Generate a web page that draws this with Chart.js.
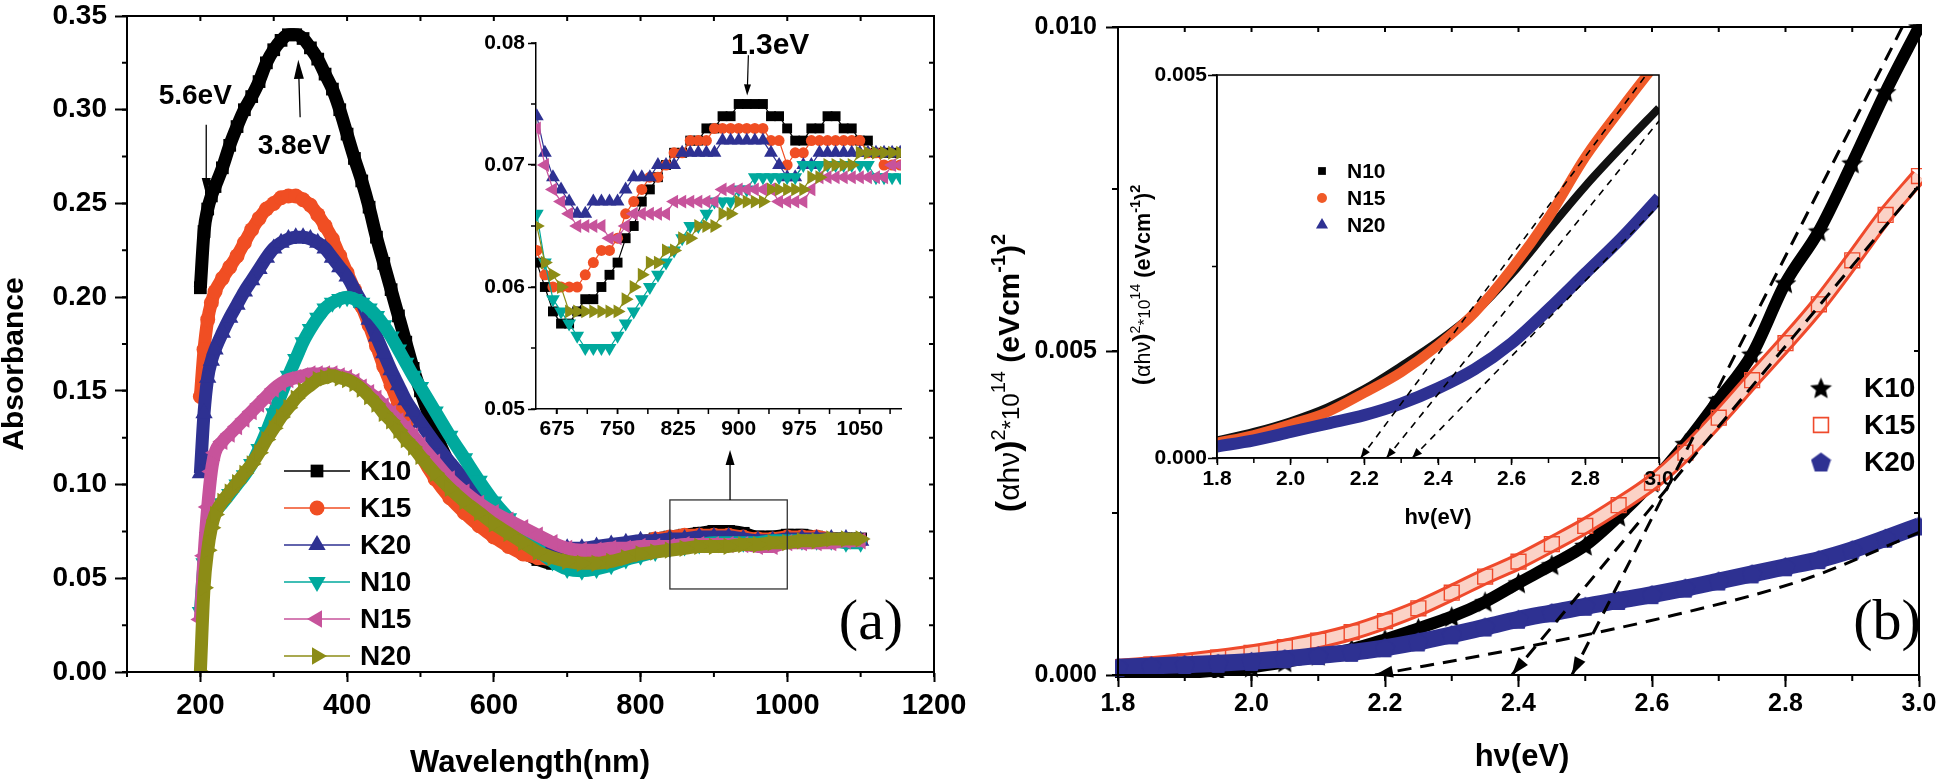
<!DOCTYPE html>
<html lang="en">
<head>
<meta charset="UTF-8">
<title>Absorbance spectra and Tauc plots</title>
<style>
  body { margin: 0; background: #fff; }
  #stage { position: relative; width: 1946px; height: 784px; overflow: hidden; }
  #stage canvas { position: absolute; left: 0; top: 0; }
</style>
<script src="https://cdn.jsdelivr.net/npm/chart.js"></script>
</head>
<body>
<div id="stage">
  <canvas id="absChart" width="1946" height="784"></canvas>
  <canvas id="absZoom" width="1946" height="784"></canvas>
  <canvas id="taucChart" width="1946" height="784"></canvas>
  <canvas id="taucZoom" width="1946" height="784"></canvas>
</div>
<script>
// ---------- (a) absorbance vs wavelength ----------
const wavelength = [200,205,210,215,220,230,240,250,260,270,280,290,300,310,320,330,340,350,360,370,380,390,400,410,420,430,440,450,460,470,480,490,500,
  520,540,560,580,600,620,640,660,680,700,720,740,760,780,800,820,840,860,880,900,920,940,960,980,1000,1020,1040,1060,1080,1100];
const absK10 = [0.205,0.235,0.247,0.254,0.259, 0.269,0.281,0.291,0.300,0.307,0.315,0.325,0.332, 0.337,0.340,0.340,0.338,0.333,0.327,0.319,0.311,0.300,0.287,
  0.274,0.262,0.248,0.232,0.218,0.204,0.190,0.176,0.162,0.150, 0.128,0.110,0.095,0.084,0.075, 0.069,0.064,0.060,0.058,0.058,
  0.059,0.061,0.064,0.067,0.069, 0.071,0.072,0.073,0.074,0.075, 0.075,0.074,0.072,0.072,0.073, 0.073,0.072,0.071,0.071,0.071];
const absK15 = [0.147,0.172,0.188,0.197,0.203, 0.210,0.216,0.222,0.229,0.236,0.242,0.247,0.250, 0.253,0.254,0.254,0.252,0.249,0.244,0.238,0.231,0.222,0.213,
  0.204,0.195,0.185,0.174,0.163,0.153,0.143,0.133,0.124,0.116, 0.103,0.093,0.085,0.078,0.072, 0.067,0.063,0.061,0.060,0.060,
  0.061,0.063,0.065,0.067,0.069, 0.071,0.072,0.073,0.073,0.073, 0.073,0.072,0.071,0.071,0.072, 0.072,0.072,0.071,0.070,0.070];
const absK20 = [0.106,0.138,0.157,0.166,0.172, 0.181,0.189,0.196,0.203,0.209,0.215,0.221,0.226, 0.229,0.231,0.232,0.232,0.231,0.229,0.226,0.221,0.216,0.211,
  0.204,0.197,0.188,0.179,0.170,0.161,0.153,0.145,0.139,0.133, 0.122,0.112,0.103,0.095,0.087, 0.080,0.074,0.070,0.067,0.066,
  0.066,0.067,0.068,0.069,0.070, 0.070,0.071,0.071,0.072,0.072, 0.072,0.071,0.070,0.070,0.071, 0.071,0.071,0.071,0.071,0.070];
const absN10 = [0.032,0.058,0.072,0.080,0.085, 0.090,0.095,0.100,0.105,0.111,0.119,0.128,0.138, 0.148,0.158,0.167,0.176,0.183,0.189,0.194,0.197,0.199,0.200,
  0.199,0.197,0.194,0.190,0.185,0.179,0.172,0.165,0.158,0.152, 0.139,0.126,0.114,0.102,0.091, 0.082,0.073,0.065,0.059,0.055,
  0.054,0.055,0.057,0.060,0.062, 0.064,0.066,0.067,0.068,0.069, 0.069,0.069,0.069,0.070,0.070, 0.070,0.070,0.070,0.069,0.069];
const absN15 = [0.028,0.062,0.088,0.107,0.117, 0.123,0.127,0.131,0.135,0.139,0.143,0.147,0.151, 0.154,0.156,0.157,0.158,0.159,0.159,0.159,0.159,0.158,0.157,
  0.155,0.152,0.149,0.146,0.142,0.138,0.134,0.130,0.126,0.121, 0.112,0.103,0.096,0.090,0.085, 0.081,0.077,0.073,0.069,0.066,
  0.065,0.065,0.066,0.066,0.067, 0.067,0.067,0.068,0.068,0.068, 0.068,0.068,0.067,0.067,0.069, 0.069,0.069,0.069,0.070,0.070];
const absN20 = [0.000,0.045,0.065,0.077,0.084, 0.091,0.096,0.101,0.106,0.111,0.117,0.124,0.130, 0.136,0.141,0.146,0.150,0.153,0.156,0.157,0.158,0.157,0.156,
  0.154,0.151,0.147,0.143,0.138,0.134,0.129,0.124,0.120,0.115, 0.106,0.098,0.091,0.085,0.079, 0.074,0.069,0.064,0.061,0.059,
  0.058,0.058,0.059,0.061,0.063, 0.064,0.065,0.066,0.067,0.067, 0.067,0.068,0.068,0.069,0.069, 0.070,0.070,0.071,0.071,0.071];
const absTickX = [200, 400, 600, 800, 1000, 1200];
const absTickY = [0, 0.05, 0.10, 0.15, 0.20, 0.25, 0.30, 0.35];

// inset of (a): 650-1100 nm, read as 0.001 steps
const wlZoom = [650,660,670,680,690,700,710,720,730,740,750,760,770,780,790,800,810,820,830,840,850,860,870,880,890,900,910,920,930,940,
  950,960,970,980,990,1000,1010,1020,1030,1040,1050,1060,1070,1080,1090,1100];
const zoomK10 = [0.062,0.060,0.058,0.057,0.057,0.058,0.059,0.059,0.060,0.061, 0.062,0.064,0.065,0.067,0.068,0.069,0.070,0.071,0.071,0.072,
  0.072,0.073,0.073,0.074,0.074,0.075,0.075,0.075,0.075,0.074, 0.074,0.073,0.072,0.072,0.073,0.073,0.074,0.074,0.073,0.073, 0.072,0.072,0.071,0.071,0.071,0.071];
const zoomK15 = [0.063,0.061,0.060,0.060,0.060,0.060,0.061,0.062,0.063,0.063, 0.064,0.066,0.067,0.068,0.069,0.069,0.070,0.071,0.071,0.072,
  0.072,0.072,0.073,0.073,0.073,0.073,0.073,0.073,0.073,0.072, 0.072,0.070,0.071,0.071,0.072,0.072,0.072,0.072,0.072,0.072, 0.072,0.071,0.071,0.070,0.070,0.070];
const zoomK20 = [0.074,0.071,0.069,0.068,0.067,0.066,0.066,0.067,0.067,0.067, 0.067,0.068,0.069,0.069,0.069,0.070,0.070,0.070,0.071,0.071,
  0.071,0.071,0.071,0.072,0.072,0.072,0.072,0.072,0.072,0.071, 0.070,0.069,0.069,0.070,0.070,0.071,0.071,0.071,0.071,0.071, 0.071,0.071,0.071,0.071,0.071,0.071];
const zoomN10 = [0.066,0.062,0.059,0.058,0.057,0.056,0.055,0.055,0.055,0.055, 0.056,0.057,0.058,0.059,0.060,0.061,0.062,0.063,0.064,0.065,
  0.065,0.066,0.067,0.067,0.067,0.068,0.068,0.069,0.069,0.069, 0.069,0.069,0.069,0.070,0.070,0.070,0.070,0.070,0.070,0.070, 0.070,0.070,0.069,0.069,0.069,0.069];
const zoomN15 = [0.073,0.070,0.068,0.067,0.066,0.065,0.065,0.065,0.065,0.064, 0.064,0.065,0.066,0.066,0.066,0.066,0.066,0.067,0.067,0.067,
  0.067,0.067,0.067,0.068,0.068,0.068,0.068,0.068,0.068,0.068, 0.067,0.067,0.067,0.067,0.068,0.069,0.069,0.069,0.069,0.069, 0.069,0.069,0.069,0.069,0.070,0.070];
const zoomN20 = [0.065,0.062,0.061,0.060,0.058,0.058,0.058,0.058,0.058,0.058, 0.058,0.059,0.060,0.061,0.062,0.062,0.063,0.063,0.064,0.064,
  0.065,0.065,0.065,0.066,0.066,0.067,0.067,0.067,0.067,0.068, 0.068,0.068,0.068,0.068,0.069,0.069,0.070,0.070,0.070,0.070, 0.071,0.071,0.071,0.071,0.071,0.071];
const zoomTickX = [675, 750, 825, 900, 975, 1050];
const zoomTickY = [0.05, 0.06, 0.07, 0.08];

// ---------- (b) Tauc plots, (alpha h nu)^2 vs h nu ----------
const photonEnergy = [1.80,1.85,1.90,1.95,2.00,2.05,2.10,2.15,2.20,2.25,2.30,2.35,2.40,2.45,2.50,2.55,2.60,2.65,2.70,2.75,2.80,2.85,2.90,2.95,3.00];
const taucK10 = [0,0.00001,0.00003,0.00007,0.00012,0.0002,0.0003,0.0004,0.00055,0.00072,0.0009,0.00113,0.00142,0.0017,0.002,
  0.00245,0.00297,0.00357,0.00425,0.00495,0.00605,0.00685,0.0079,0.009,0.01];
const taucK15 = [0.00012,0.00016,0.00021,0.00027,0.00034,0.00043,0.00053,0.00066,0.00083,0.00103,0.00127,0.00152,0.00175,0.00202,0.0023,
  0.00262,0.00297,0.00343,0.00397,0.00455,0.00512,0.00572,0.0064,0.0071,0.0077];
const taucK20 = [0.00012,0.00014,0.00016,0.00018,0.00021,0.00025,0.0003,0.00035,0.00042,0.00051,0.00062,0.00074,0.00086,0.00096,0.00106,
  0.00115,0.00124,0.00134,0.00145,0.00156,0.00167,0.00178,0.00193,0.00211,0.0023];
// linear extrapolations (band gap lines)
const fitK10E = [2.48, 2.975], fitK10V = [0, 0.0100];
const fitK15E = [2.39, 3.0], fitK15V = [0, 0.00755];
const fitK20E = [2.185, 2.40, 2.615, 2.83, 3.0], fitK20V = [0, 0.00041, 0.00088, 0.00148, 0.0022];
const taucTickX = [1.8, 2.0, 2.2, 2.4, 2.6, 2.8, 3.0];
const taucTickY = [0, 0.005, 0.010];

const energyZoom = [1.8,1.9,2.0,2.1,2.2,2.3,2.4,2.5,2.6,2.7,2.8,2.9,3.0];
const taucN10 = [0.00023,0.00034,0.00048,0.00066,0.0009,0.0012,0.00152,0.0019,0.0024,0.00298,0.00355,0.00407,0.00457];
const taucN15 = [0.0002,0.0003,0.00044,0.0006,0.00085,0.00112,0.00147,0.0019,0.00247,0.00314,0.00393,0.00458,0.0052];
const taucN20 = [0.00015,0.00023,0.00034,0.00045,0.00056,0.00071,0.00091,0.00116,0.0015,0.00194,0.00241,0.00288,0.0034];
const fitN10E = [2.26, 3.0], fitN10V = [0, 0.0044];
const fitN15E = [2.19, 2.965], fitN15V = [0, 0.005];
const fitN20E = [2.33, 3.0], fitN20V = [0, 0.0033];
const taucZoomTickY = [0, 0.005];

// ---------- shared look ----------
const SANS = '"Liberation Sans", Arial, sans-serif';
const SERIF = '"Liberation Serif", "Times New Roman", serif';
Chart.defaults.font.family = SANS;
Chart.defaults.color = '#000';
Chart.defaults.animation = false;
Chart.defaults.plugins.legend.display = false;
Chart.defaults.plugins.tooltip.enabled = false;

const pts = (xs, ys) => xs.map((v, i) => ({x: v, y: ys[i]}));

function axis(o) {
  return {
    type: 'linear', position: o.pos, min: o.min, max: o.max,
    afterBuildTicks: s => { s.ticks = o.major.map(v => ({value: v})); },
    afterFit: s => {
      if (o.pos === 'left') { s.width = o.size; s.paddingTop = 0; s.paddingBottom = 0; }
      else { s.height = o.size; s.paddingLeft = 0; s.paddingRight = 0; }
    },
    ticks: { padding: o.pad, autoSkip: false, maxRotation: 0,
             color: '#000', font: { family: SANS, size: o.font, weight: 'bold' }, callback: o.fmt },
    grid: { drawOnChartArea: false, drawTicks: true, tickLength: o.tick, tickColor: '#000', tickWidth: o.lw },
    border: { display: true, color: '#000', width: o.lw }
  };
}

function minorTicks(chart, xStep, yStep, len, innerLen, lw) {
  const {ctx, chartArea: a, scales: {x, y}} = chart;
  ctx.save();
  ctx.strokeStyle = '#000';
  ctx.lineWidth = lw;
  ctx.beginPath();
  for (let i = Math.ceil(x.min / xStep - 1e-9); i * xStep <= x.max + 1e-9; i++) {
    const px = x.getPixelForValue(i * xStep);
    ctx.moveTo(px, a.bottom); ctx.lineTo(px, a.bottom + len);
    if (innerLen) { ctx.moveTo(px, a.top); ctx.lineTo(px, a.top + innerLen); }
  }
  for (let i = Math.ceil(y.min / yStep - 1e-9); i * yStep <= y.max + 1e-9; i++) {
    const py = y.getPixelForValue(i * yStep);
    ctx.moveTo(a.left, py); ctx.lineTo(a.left - len, py);
    if (innerLen) { ctx.moveTo(a.right, py); ctx.lineTo(a.right - innerLen, py); }
  }
  ctx.stroke();
  ctx.restore();
}

function frame(chart, lw) {
  const {ctx, chartArea: a} = chart;
  ctx.save();
  ctx.strokeStyle = '#000';
  ctx.lineWidth = lw;
  ctx.strokeRect(a.left, a.top, a.right - a.left, a.bottom - a.top);
  ctx.restore();
}

function text(ctx, str, px, py, o) {
  ctx.save();
  ctx.translate(px, py);
  if (o.rot) ctx.rotate(o.rot);
  ctx.font = `${o.weight || 'bold'} ${o.size}px ${o.family || SANS}`;
  ctx.fillStyle = '#000';
  ctx.textAlign = o.align || 'center';
  ctx.textBaseline = o.base || 'middle';
  ctx.fillText(str, 0, 0);
  ctx.restore();
}

// rotated text built from pieces (superscripts)
function richText(ctx, parts, px, py) {
  ctx.save();
  ctx.translate(px, py);
  ctx.rotate(-Math.PI / 2);
  ctx.fillStyle = '#000';
  ctx.textBaseline = 'alphabetic';
  ctx.textAlign = 'left';
  let total = 0;
  parts.forEach(p => { ctx.font = p.f; p.w = ctx.measureText(p.t).width; total += p.w; });
  let cx = -total / 2;
  parts.forEach(p => { ctx.font = p.f; ctx.fillText(p.t, cx, p.dy || 0); cx += p.w; });
  ctx.restore();
}

function head(ctx, tx, ty, fx, fy, len, half) {
  const ang = Math.atan2(ty - fy, tx - fx);
  const bx = tx - len * Math.cos(ang), by = ty - len * Math.sin(ang);
  ctx.beginPath();
  ctx.moveTo(tx, ty);
  ctx.lineTo(bx + half * Math.sin(ang), by - half * Math.cos(ang));
  ctx.lineTo(bx - half * Math.sin(ang), by + half * Math.cos(ang));
  ctx.closePath();
  ctx.fill();
}

function arrow(ctx, x1, y1, x2, y2, len, half, lw) {
  ctx.save();
  ctx.strokeStyle = '#000'; ctx.fillStyle = '#000'; ctx.lineWidth = lw;
  const ang = Math.atan2(y2 - y1, x2 - x1);
  ctx.beginPath(); ctx.moveTo(x1, y1); ctx.lineTo(x2 - len * 0.8 * Math.cos(ang), y2 - len * 0.8 * Math.sin(ang)); ctx.stroke();
  head(ctx, x2, y2, x1, y1, len, half);
  ctx.restore();
}

function fitHeads(chart, len, half) {
  const {ctx, scales: {x, y}} = chart;
  ctx.save();
  ctx.fillStyle = '#000';
  chart.data.datasets.forEach(ds => {
    if (!ds.arrowHead) return;
    const d = ds.data;
    head(ctx, x.getPixelForValue(d[0].x), y.getPixelForValue(d[0].y),
         x.getPixelForValue(d[1].x), y.getPixelForValue(d[1].y), len, half);
  });
  ctx.restore();
}

function markImage(size, color, n, inner) {
  const c = document.createElement('canvas');
  c.width = c.height = size;
  const g = c.getContext('2d');
  const r = size / 2;
  g.fillStyle = color;
  g.beginPath();
  const steps = inner ? n * 2 : n;
  for (let i = 0; i < steps; i++) {
    const rr = inner && i % 2 ? r * inner : r;
    const ang = -Math.PI / 2 + i * 2 * Math.PI / steps;
    const px = r + rr * Math.cos(ang), py = r + 1 + rr * Math.sin(ang);
    i ? g.lineTo(px, py) : g.moveTo(px, py);
  }
  g.closePath();
  g.fill();
  return c;
}

// ---------- chart (a) ----------
const seriesA = [
  {label: 'K10', color: '#000000', style: 'rect',     rot: 0,   r: 9,   ri: 7,   main: absK10, zoom: zoomK10},
  {label: 'K15', color: '#f04e23', style: 'circle',   rot: 0,   r: 7.5, ri: 5.5, main: absK15, zoom: zoomK15},
  {label: 'K20', color: '#2e3192', style: 'triangle', rot: 0,   r: 10,  ri: 8,   main: absK20, zoom: zoomK20},
  {label: 'N10', color: '#00a99d', style: 'triangle', rot: 180, r: 10,  ri: 8,   main: absN10, zoom: zoomN10},
  {label: 'N15', color: '#c7539b', style: 'triangle', rot: -90, r: 10,  ri: 8,   main: absN15, zoom: zoomN15},
  {label: 'N20', color: '#8c8c16', style: 'triangle', rot: 90,  r: 10,  ri: 8,   main: absN20, zoom: zoomN20}
];

const absDecor = {
  id: 'absDecor',
  afterDraw(chart) {
    const {ctx, scales: {x, y}} = chart;
    minorTicks(chart, 100, 0.025, 5, 5, 2);
    frame(chart, 2);
    text(ctx, 'Absorbance', 15, 364, {size: 30, rot: -Math.PI / 2});
    text(ctx, 'Wavelength(nm)', 530, 763, {size: 31});
    text(ctx, '(a)', 871, 624, {size: 58, family: SERIF, weight: 'normal'});
    text(ctx, '5.6eV', x.getPixelForValue(193), y.getPixelForValue(0.3074), {size: 28});
    text(ctx, '3.8eV', x.getPixelForValue(328), y.getPixelForValue(0.2807), {size: 28});
    arrow(ctx, x.getPixelForValue(208), y.getPixelForValue(0.292), x.getPixelForValue(208), y.getPixelForValue(0.2545), 17, 4.5, 1.3);
    arrow(ctx, x.getPixelForValue(336), y.getPixelForValue(0.296), x.getPixelForValue(333.5), y.getPixelForValue(0.3266), 19, 5, 1.3);
    // zoomed region and pointer to the inset
    const bx1 = x.getPixelForValue(840), bx2 = x.getPixelForValue(1000);
    const by1 = y.getPixelForValue(0.0918), by2 = y.getPixelForValue(0.0443);
    ctx.save(); ctx.strokeStyle = '#333'; ctx.lineWidth = 1.3;
    ctx.strokeRect(bx1, by1, bx2 - bx1, by2 - by1); ctx.restore();
    arrow(ctx, x.getPixelForValue(922), by1, x.getPixelForValue(922), y.getPixelForValue(0.1185), 15, 4.5, 1.3);
    // legend: line + marker + label
    const rows = [471, 508, 545, 582, 619, 656];
    chart.data.datasets.forEach((ds, i) => {
      const yy = rows[i];
      ctx.save();
      ctx.strokeStyle = ds.borderColor; ctx.fillStyle = ds.borderColor; ctx.lineWidth = 1.5;
      ctx.beginPath(); ctx.moveTo(284, yy); ctx.lineTo(350, yy); ctx.stroke();
      Chart.helpers.drawPoint(ctx, {pointStyle: ds.pointStyle, rotation: ds.rotation, radius: ds.pointRadius, borderWidth: 0}, 317, yy);
      ctx.restore();
      text(ctx, ds.label, 360, yy + 1, {size: 28, align: 'left'});
    });
  }
};

new Chart(document.getElementById('absChart'), {
  type: 'line',
  data: {
    datasets: seriesA.map((s, i) => ({
      label: s.label, data: pts(wavelength, s.main),
      borderColor: s.color, backgroundColor: s.color, borderWidth: 13,
      pointStyle: s.style, rotation: s.rot, pointRadius: s.r, pointBorderWidth: 0,
      cubicInterpolationMode: 'monotone', order: seriesA.length - i
    }))
  },
  options: {
    responsive: false,
    layout: {padding: {left: 7, top: 16, right: 1012, bottom: 12}},
    scales: {
      x: axis({pos: 'bottom', min: 100, max: 1200, major: absTickX, size: 100, tick: 10, pad: 7, font: 29, lw: 2, fmt: v => v}),
      y: axis({pos: 'left', min: 0, max: 0.35, major: absTickY, size: 120, tick: 12, pad: 8, font: 28, lw: 2, fmt: v => v.toFixed(2)})
    }
  },
  plugins: [absDecor]
});

// ---------- inset of (a) ----------
const zoomDecor = {
  id: 'zoomDecor',
  afterDraw(chart) {
    const {ctx, scales: {x, y}} = chart;
    minorTicks(chart, 37.5, 0.005, 5, 0, 1.5);
    text(ctx, '1.3eV', x.getPixelForValue(939), y.getPixelForValue(0.0798), {size: 30});
    arrow(ctx, x.getPixelForValue(912), y.getPixelForValue(0.0790), x.getPixelForValue(910.5), y.getPixelForValue(0.0757), 11, 3.5, 1.2);
  }
};

new Chart(document.getElementById('absZoom'), {
  type: 'line',
  data: {
    datasets: seriesA.map((s, i) => ({
      label: s.label, data: pts(wlZoom, s.zoom),
      borderColor: s.color, backgroundColor: s.color, borderWidth: 1.2,
      pointStyle: s.style, rotation: s.rot, pointRadius: s.ri, pointBorderWidth: 0,
      tension: 0, order: seriesA.length - i
    }))
  },
  options: {
    responsive: false,
    layout: {padding: {left: 466, top: 43, right: 1045, bottom: 315}},
    scales: {
      x: axis({pos: 'bottom', min: 649, max: 1101, major: zoomTickX, size: 60, tick: 5, pad: 3, font: 21, lw: 1.5, fmt: v => v}),
      y: axis({pos: 'left', min: 0.05, max: 0.08, major: zoomTickY, size: 70, tick: 8, pad: 3, font: 21, lw: 1.5, fmt: v => v.toFixed(2)})
    }
  },
  plugins: [zoomDecor]
});

// ---------- chart (b) ----------
const starMark = markImage(23, '#000000', 5, 0.45);
const pentaMark = markImage(21, '#2e3192', 5, 0);
const orangeB = '#ef4a2c';
const blueB = '#2e3192';

function fitSet(xs, ys, width, dash, curved) {
  return {data: pts(xs, ys), borderColor: '#000', borderWidth: width, borderDash: dash, pointRadius: 0,
          cubicInterpolationMode: curved ? 'monotone' : 'default', arrowHead: true, order: 0};
}

function yTitleParts(s) {
  return [
    {t: '(', f: `bold ${34 * s}px ${SANS}`},
    {t: 'αhν', f: `normal ${30 * s}px ${SANS}`},
    {t: ')', f: `bold ${34 * s}px ${SANS}`},
    {t: '2', f: `normal ${20 * s}px ${SANS}`, dy: -14 * s},
    {t: '*10', f: `normal ${24 * s}px ${SANS}`},
    {t: '14', f: `normal ${20 * s}px ${SANS}`, dy: -14 * s},
    {t: ' (', f: `bold ${30 * s}px ${SANS}`},
    {t: 'eVcm', f: `bold ${30 * s}px ${SANS}`},
    {t: '-1', f: `bold ${20 * s}px ${SANS}`, dy: -14 * s},
    {t: ')', f: `bold ${30 * s}px ${SANS}`},
    {t: '2', f: `bold ${20 * s}px ${SANS}`, dy: -14 * s}
  ];
}

const taucDecor = {
  id: 'taucDecor',
  afterDraw(chart) {
    const {ctx} = chart;
    minorTicks(chart, 0.1, 0.0025, 6, 5, 2);
    frame(chart, 2);
    fitHeads(chart, 18, 6);
    text(ctx, 'hν(eV)', 1522, 757, {size: 31});
    richText(ctx, yTitleParts(1), 1019, 373);
    text(ctx, '(b)', 1887, 624, {size: 58, family: SERIF, weight: 'normal'});
    const items = [
      {label: 'K10', y: 388, style: starMark, fill: '#000', stroke: '#000', r: 10, bw: 0},
      {label: 'K15', y: 425, style: 'rect', fill: 'rgba(255,255,255,0)', stroke: orangeB, r: 10.5, bw: 1.6},
      {label: 'K20', y: 462, style: pentaMark, fill: blueB, stroke: blueB, r: 10, bw: 0}
    ];
    items.forEach(it => {
      ctx.save();
      ctx.fillStyle = it.fill; ctx.strokeStyle = it.stroke; ctx.lineWidth = it.bw;
      Chart.helpers.drawPoint(ctx, {pointStyle: it.style, rotation: 0, radius: it.r, borderWidth: it.bw}, 1821, it.y);
      ctx.restore();
      text(ctx, it.label, 1864, it.y + 1, {size: 28, align: 'left'});
    });
  }
};

new Chart(document.getElementById('taucChart'), {
  type: 'line',
  data: {
    datasets: [
      fitSet(fitK10E, fitK10V, 3, [14, 9], false),
      fitSet(fitK15E, fitK15V, 3, [14, 9], false),
      fitSet(fitK20E, fitK20V, 3, [14, 9], true),
      {label: 'K20', data: pts(photonEnergy, taucK20), borderColor: blueB, backgroundColor: blueB, borderWidth: 17,
       pointStyle: pentaMark, pointRadius: 10, cubicInterpolationMode: 'monotone', clip: 3, order: 1},
      {label: 'K15', data: pts(photonEnergy, taucK15), borderColor: '#fbd2c6', backgroundColor: 'rgba(255,255,255,0)', borderWidth: 11,
       pointStyle: 'rect', pointRadius: 10.5, pointBorderColor: orangeB, pointBorderWidth: 1.4,
       cubicInterpolationMode: 'monotone', clip: 3, order: 2},
      {label: 'K15 edge', data: pts(photonEnergy, taucK15), borderColor: orangeB, borderWidth: 17, pointRadius: 0,
       cubicInterpolationMode: 'monotone', clip: 3, order: 3},
      {label: 'K10', data: pts(photonEnergy, taucK10), borderColor: '#000', backgroundColor: '#000', borderWidth: 12,
       pointStyle: starMark, pointRadius: 11, cubicInterpolationMode: 'monotone', clip: 3, order: 4}
    ]
  },
  options: {
    responsive: false,
    layout: {padding: {left: 1018, top: 15, right: 19, bottom: 9}},
    scales: {
      x: axis({pos: 'bottom', min: 1.8, max: 3.0, major: taucTickX, size: 100, tick: 12, pad: 2, font: 25, lw: 2, fmt: v => v.toFixed(1)}),
      y: axis({pos: 'left', min: 0, max: 0.010, major: taucTickY, size: 100, tick: 12, pad: 9, font: 25, lw: 2, fmt: v => v.toFixed(3)})
    }
  },
  plugins: [taucDecor]
});

// ---------- inset of (b) ----------
const taucZoomDecor = {
  id: 'taucZoomDecor',
  beforeDraw(chart) {
    const {ctx, chartArea: a} = chart;
    ctx.save(); ctx.fillStyle = '#fff'; ctx.fillRect(a.left, a.top, a.right - a.left, a.bottom - a.top); ctx.restore();
  },
  afterDraw(chart) {
    const {ctx} = chart;
    minorTicks(chart, 0.1, 0.0025, 5, 0, 1.5);
    frame(chart, 1.5);
    fitHeads(chart, 10, 4);
    text(ctx, 'hν(eV)', 1438, 518, {size: 22});
    richText(ctx, yTitleParts(0.72), 1150, 285);
    const items = [
      {label: 'N10', y: 171, style: 'rect', color: '#000', r: 5.5},
      {label: 'N15', y: 198, style: 'circle', color: '#f05a28', r: 5},
      {label: 'N20', y: 225, style: 'triangle', color: blueB, r: 7}
    ];
    items.forEach(it => {
      ctx.save(); ctx.fillStyle = it.color;
      Chart.helpers.drawPoint(ctx, {pointStyle: it.style, rotation: 0, radius: it.r, borderWidth: 0}, 1322, it.y);
      ctx.restore();
      text(ctx, it.label, 1347, it.y + 1, {size: 21, align: 'left'});
    });
  }
};

new Chart(document.getElementById('taucZoom'), {
  type: 'line',
  data: {
    datasets: [
      fitSet(fitN10E, fitN10V, 1.6, [7, 6], false),
      fitSet(fitN15E, fitN15V, 1.6, [7, 6], false),
      fitSet(fitN20E, fitN20V, 1.6, [7, 6], false),
      {label: 'N20', data: pts(energyZoom, taucN20), borderColor: blueB, borderWidth: 12, pointRadius: 0,
       cubicInterpolationMode: 'monotone', clip: 0, order: 1},
      {label: 'N15', data: pts(energyZoom, taucN15), borderColor: '#f05a28', borderWidth: 10, pointRadius: 0,
       cubicInterpolationMode: 'monotone', clip: 0, order: 2},
      {label: 'N10', data: pts(energyZoom, taucN10), borderColor: '#111', borderWidth: 8, pointRadius: 0,
       cubicInterpolationMode: 'monotone', clip: 0, order: 3}
    ]
  },
  options: {
    responsive: false,
    layout: {padding: {left: 1137, top: 75, right: 287, bottom: 246}},
    scales: {
      x: axis({pos: 'bottom', min: 1.8, max: 3.0, major: taucTickX, size: 80, tick: 7, pad: 2, font: 21, lw: 1.5, fmt: v => v.toFixed(1)}),
      y: axis({pos: 'left', min: 0, max: 0.005, major: taucZoomTickY, size: 80, tick: 9, pad: 1, font: 21, lw: 1.5, fmt: v => v.toFixed(3)})
    }
  },
  plugins: [taucZoomDecor]
});
</script>
</body>
</html>
